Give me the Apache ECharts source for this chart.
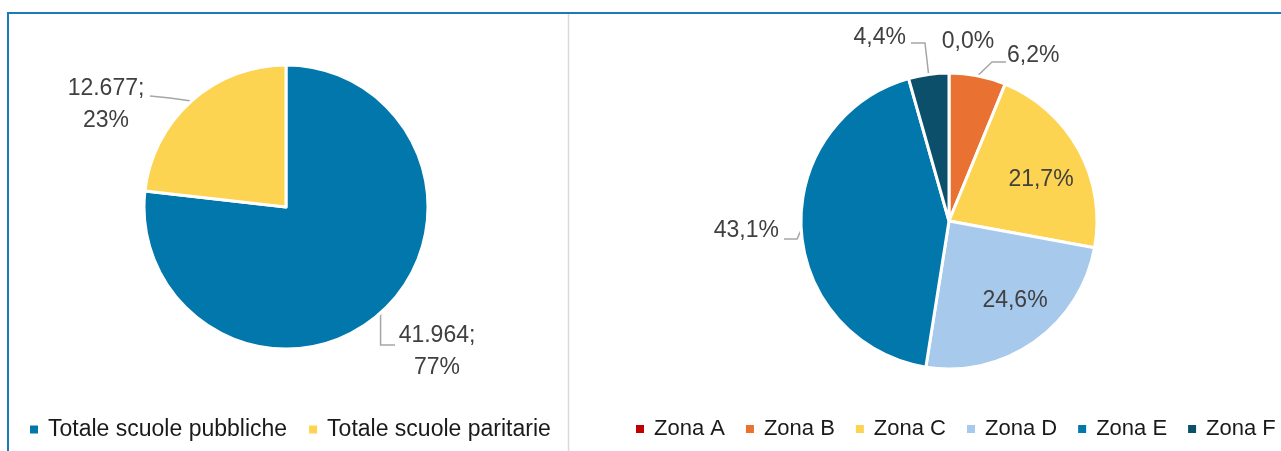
<!DOCTYPE html>
<html>
<head>
<meta charset="utf-8">
<style>
  html, body { margin: 0; padding: 0; background: #fff; }
  #chart { width: 1281px; height: 451px; }
</style>
<script src="https://cdn.jsdelivr.net/npm/echarts@6/dist/echarts.min.js"></script>
</head>
<body>
<div id="chart"></div>
<script>
(function () {
  var FONT = '"Liberation Sans", Arial, sans-serif';
  var LABEL = '#404040';
  var GUIDE = '#a6a6a6';

  var SCHOOL_NAMES = ['Totale scuole pubbliche', 'Totale scuole paritarie'];
  var SCHOOL_VALUES = [41964, 12677];
  var SCHOOL_COLORS = ['#0277ab', '#fdd352'];

  var ZONE_NAMES = ['Zona A', 'Zona B', 'Zona C', 'Zona D', 'Zona E', 'Zona F'];
  var ZONE_SHARES = [0.0, 6.2, 21.7, 24.6, 43.1, 4.4];
  var ZONE_COLORS = ['#c00000', '#e97132', '#fdd352', '#a6c9ec', '#0277ab', '#0c4f6b'];

  function thousands(v) {
    return String(v).replace(/\B(?=(\d{3})+(?!\d))/g, '.');
  }

  function comma(v) {
    return v.toFixed(1).replace('.', ',') + '%';
  }

  var chart = echarts.init(document.getElementById('chart'), null, { renderer: 'canvas' });

  chart.setOption({
    animation: false,
    backgroundColor: '#fff',
    textStyle: { fontFamily: FONT },
    graphic: [
      { type: 'line', shape: { x1: 8, y1: 13, x2: 1281, y2: 13 }, style: { stroke: '#1a7bb5', lineWidth: 2 } },
      { type: 'line', shape: { x1: 8, y1: 12, x2: 8, y2: 451 }, style: { stroke: '#1a7bb5', lineWidth: 2 } },
      { type: 'line', shape: { x1: 568.5, y1: 14, x2: 568.5, y2: 451 }, style: { stroke: '#d9d9d9', lineWidth: 1.5 } }
    ],
    legend: [
      {
        data: SCHOOL_NAMES,
        left: 30, top: 418, padding: 0,
        icon: 'rect', itemWidth: 8, itemHeight: 8, itemGap: 22,
        itemStyle: { borderWidth: 0 },
        selectedMode: false,
        textStyle: { fontFamily: FONT, fontSize: 23, color: '#1a1a1a', padding: [0, 0, 0, 5] }
      },
      {
        data: ZONE_NAMES,
        left: 636, top: 418, padding: 0, width: 660,
        icon: 'rect', itemWidth: 8, itemHeight: 8, itemGap: 21,
        itemStyle: { borderWidth: 0 },
        selectedMode: false,
        textStyle: { fontFamily: FONT, fontSize: 22, color: '#1a1a1a', padding: [0, 0, 0, 5] }
      }
    ],
    series: [
      {
        type: 'pie',
        center: [286, 207],
        radius: 142,
        startAngle: 90,
        clockwise: true,
        percentPrecision: 0,
        emphasis: { disabled: true },
        itemStyle: { borderColor: '#fff', borderWidth: 3 },
        label: {
          show: true,
          position: 'outside',
          color: LABEL,
          fontFamily: FONT,
          fontSize: 23,
          lineHeight: 32,
          align: 'center',
          formatter: function (p) { return thousands(p.value) + ';\n' + p.percent + '%'; }
        },
        labelLine: { show: true, length: 5, length2: 30, lineStyle: { color: GUIDE, width: 1.5 } },
        labelLayout: function (p) {
          var a = p.labelLinePoints && p.labelLinePoints[0];
          if (p.dataIndex === 0) {
            return {
              x: 437, y: 352, align: 'center', verticalAlign: 'middle',
              labelLinePoints: a ? [a, [a[0], 345], [395, 345]] : undefined
            };
          }
          return {
            x: 106, y: 105, align: 'center', verticalAlign: 'middle',
            labelLinePoints: a ? [a, [170, 98], [150, 96]] : undefined
          };
        },
        data: SCHOOL_NAMES.map(function (n, i) {
          return { name: n, value: SCHOOL_VALUES[i], itemStyle: { color: SCHOOL_COLORS[i] } };
        })
      },
      {
        type: 'pie',
        center: [949, 221],
        radius: 148,
        startAngle: 90,
        clockwise: true,
        emphasis: { disabled: true },
        itemStyle: { borderColor: '#fff', borderWidth: 3 },
        label: {
          show: true,
          color: LABEL,
          fontFamily: FONT,
          fontSize: 23,
          formatter: function (p) { return comma(p.value); }
        },
        labelLine: { show: true, length: 5, length2: 10, lineStyle: { color: GUIDE, width: 1.5 } },
        labelLayout: function (p) {
          var a = p.labelLinePoints && p.labelLinePoints[0];
          switch (p.dataIndex) {
            case 0:
              return { x: 968, y: 42, align: 'center', verticalAlign: 'middle' };
            case 1:
              return { x: 1007, y: 56, align: 'left', verticalAlign: 'middle',
                labelLinePoints: a ? [a, [992, 62], [1006, 62]] : undefined };
            case 2:
              return { x: 1041, y: 180, align: 'center', verticalAlign: 'middle' };
            case 3:
              return { x: 1015, y: 301, align: 'center', verticalAlign: 'middle' };
            case 4:
              return { x: 779, y: 231, align: 'right', verticalAlign: 'middle',
                labelLinePoints: a ? [a, [797, 239], [784, 239]] : undefined };
            default:
              return { x: 906, y: 38, align: 'right', verticalAlign: 'middle',
                labelLinePoints: a ? [a, [925, 43], [911, 43]] : undefined };
          }
        },
        data: ZONE_NAMES.map(function (n, i) {
          var inside = i === 2 || i === 3;
          return {
            name: n,
            value: ZONE_SHARES[i],
            itemStyle: { color: ZONE_COLORS[i] },
            label: { position: inside ? 'inside' : 'outside' },
            labelLine: { show: !inside && i !== 0 }
          };
        })
      }
    ]
  });
})();
</script>
</body>
</html>
